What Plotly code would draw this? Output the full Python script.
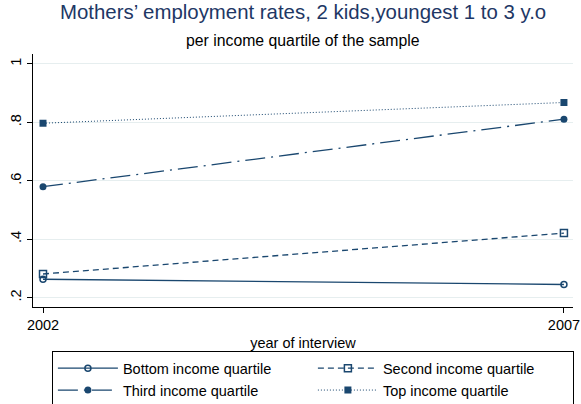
import plotly.graph_objects as go

# Survey years and employment rates per income quartile
years = [2002, 2007]
bottom_q = [0.263, 0.245]
second_q = [0.281, 0.421]
third_q = [0.580, 0.811]
top_q = [0.797, 0.868]

series_names = ["Bottom income quartile", "Second income quartile",
                "Third income quartile", "Top income quartile"]
y_ticks = [0.2, 0.4, 0.6, 0.8, 1.0]
y_tick_text = [".2", ".4", ".6", ".8", "1"]
x_ticks = [2002, 2007]

NAVY = "#1a476f"
FONT = "Liberation Sans, Arial, Helvetica, sans-serif"

styles = [
    dict(dash="solid", symbol="circle-open", size=6, mlw=1.5, lw=1.3),
    dict(dash="6px,4px", symbol="square-open", size=7, mlw=1.5, lw=1.3),
    dict(dash="20px,6px,2px,6px", symbol="circle", size=7, mlw=0, lw=1.3),
    dict(dash="1px,2px", symbol="square", size=7, mlw=0, lw=1),
]

fig = go.Figure()
for name, vals, st in zip(series_names, [bottom_q, second_q, third_q, top_q], styles):
    fig.add_trace(go.Scatter(
        x=years, y=vals, name=name, mode="lines+markers",
        line=dict(color=NAVY, width=st["lw"], dash=st["dash"]),
        marker=dict(symbol=st["symbol"], size=st["size"], color=NAVY,
                    line=dict(color=NAVY, width=st["mlw"])),
    ))

fig.update_layout(
    width=581, height=404,
    margin=dict(l=33, r=8, t=54, b=97, autoexpand=False),
    paper_bgcolor="white", plot_bgcolor="white",
    font=dict(family=FONT, size=14, color="black"),
    showlegend=True,
    legend=dict(
        orientation="h", x=0.035, xanchor="left", y=-0.175, yanchor="top",
        bordercolor="black", borderwidth=1, bgcolor="white",
        itemwidth=60, entrywidth=185, entrywidthmode="pixels",
        font=dict(size=14.5, family=FONT), tracegroupgap=0,
        itemclick=False,
    ),
    annotations=[
        dict(text="Mothers’ employment rates, 2 kids,youngest 1 to 3 y.o",
             xref="paper", yref="paper", x=0.5, y=1, yshift=42,
             xanchor="center", yanchor="middle", showarrow=False,
             font=dict(size=20.4, color="#1e3765", family=FONT)),
        dict(text="per income quartile of the sample",
             xref="paper", yref="paper", x=0.5, y=1, yshift=14,
             xanchor="center", yanchor="middle", showarrow=False,
             font=dict(size=15.8, color="black", family=FONT)),
    ],
)

fig.update_xaxes(
    range=[2001.904, 2007.087], tickvals=x_ticks, ticktext=[str(v) for v in x_ticks],
    showgrid=False, zeroline=False, showline=True, linecolor="black", linewidth=1,
    ticks="outside", ticklen=5, tickcolor="black", tickfont=dict(size=14.5),
    title=dict(text="year of interview", font=dict(size=14.5), standoff=5),
)
fig.update_yaxes(
    range=[0.168, 1.034], tickvals=y_ticks, ticktext=y_tick_text, tickangle=-90,
    showgrid=True, gridcolor="#e6eeef", gridwidth=1, zeroline=False,
    showline=True, linecolor="black", linewidth=1,
    ticks="outside", ticklen=5, tickcolor="black", tickfont=dict(size=14.5),
)

fig.write_html("out.html")
